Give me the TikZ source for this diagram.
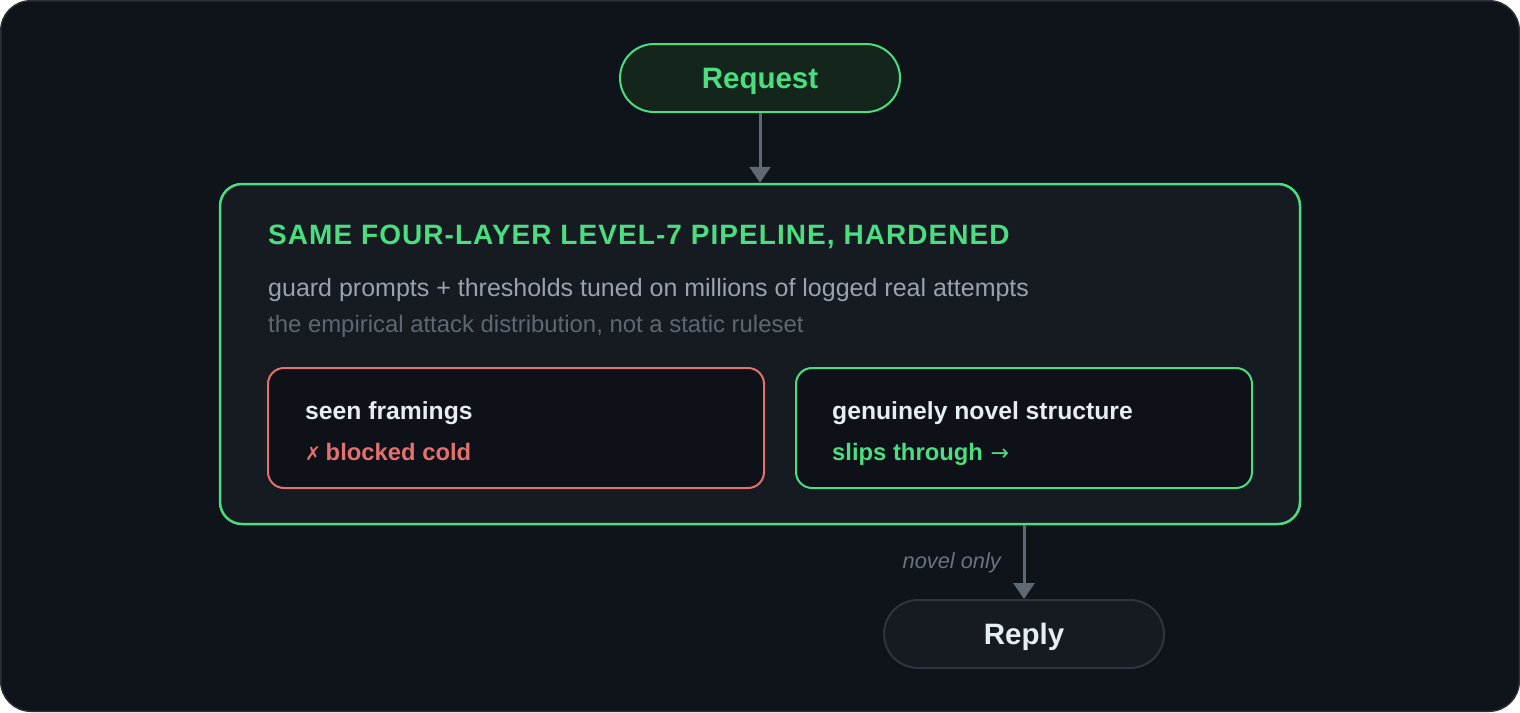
\documentclass[tikz,border=0pt]{standalone}
\usepackage{fontspec}
\setmainfont{Liberation Sans}
\newfontfamily\symfont{DejaVu Sans}
\usetikzlibrary{arrows.meta}
\definecolor{bgc}{HTML}{0F141B}
\definecolor{edgec}{HTML}{2B3039}
\definecolor{panelc}{HTML}{161B22}
\definecolor{innerc}{HTML}{0E1218}
\definecolor{greenc}{HTML}{4ADE80}
\definecolor{greenfill}{HTML}{14261C}
\definecolor{redc}{HTML}{E5716F}
\definecolor{arrowc}{HTML}{5F6873}
\definecolor{whitec}{HTML}{E6EDF3}
\definecolor{grayone}{HTML}{9AA3AD}
\definecolor{graytwo}{HTML}{5F6770}
\definecolor{graylbl}{HTML}{6B7280}
\definecolor{replyedge}{HTML}{2E353F}
\begin{document}
\begin{tikzpicture}[x=1pt,y=-1pt,
  pill/.style={rounded corners=34pt, minimum width=280pt, minimum height=68pt, line width=2pt, inner sep=0pt,
    text height=21pt, text depth=0pt, font=\bfseries\fontsize{29.5}{33}\selectfont},
  casebox/.style={rounded corners=16pt, minimum width=#1, minimum height=120pt, line width=2pt, fill=innerc, inner sep=0pt},
  flow/.style={draw=arrowc, line width=3pt, -{Triangle[length=16pt,width=21pt]}},
  boxhead/.style={anchor=base west, inner sep=0pt, text=whitec, font=\bfseries\fontsize{24.7}{28}\selectfont},
  boxtag/.style={anchor=base west, inner sep=0pt, font=\bfseries\fontsize{23.8}{28}\selectfont}
]
\useasboundingbox (0,0) rectangle (1520,712);
\draw[fill=bgc, draw=edgec, line width=1.5pt, rounded corners=30pt] (0.75,0.75) rectangle (1519.25,711.25);

\node[pill, draw=greenc, fill=greenfill, text=greenc] (req) at (760,78) {Request};

\node[rounded corners=22pt, minimum width=1080pt, minimum height=340pt, line width=2.5pt,
  draw=greenc, fill=panelc, inner sep=0pt] (main) at (760,354) {};

\node[anchor=base west, inner sep=0pt, text=greenc,
  font=\bfseries\fontsize{28}{32}\selectfont\addfontfeature{LetterSpace=3.8}] (title) at (268,244.5)
  {SAME FOUR-LAYER LEVEL-7 PIPELINE, HARDENED};
\node[anchor=base west, inner sep=0pt, text=grayone, font=\fontsize{25}{29}\selectfont] (sub1) at (268,296)
  {guard prompts + thresholds tuned on millions of logged real attempts};
\node[anchor=base west, inner sep=0pt, text=graytwo, font=\fontsize{23.9}{27}\selectfont] (sub2) at (268,332)
  {the empirical attack distribution, not a static ruleset};

\node[casebox=496pt, draw=redc] (seen) at (516,428) {};
\node[boxhead] (seenh) at (305,419) {seen framings};
\node[boxtag, text=redc] (seent) at (305,460) {{\symfont\mdseries\fontsize{19}{23}\selectfont ✗}\hspace{-2pt} blocked cold};

\node[casebox=456pt, draw=greenc] (novel) at (1024,428) {};
\node[boxhead] (novelh) at (832,419) {genuinely novel structure};
\node[boxtag, text=greenc] (novelt) at (832,460) {slips through\hspace{1pt} {\symfont\mdseries\fontsize{22}{25}\selectfont →}};

\node[pill, draw=replyedge, fill=panelc, text=whitec] (reply) at (1024,634) {Reply};

\draw[flow] (req.south) -- (main.north);
\draw[flow] (reply.north |- main.south) -- (reply.north);
\node[anchor=base east, inner sep=0pt, text=graylbl, font=\itshape\fontsize{21.8}{25}\selectfont] (lbl)
  at (1001,568) {novel only};
\end{tikzpicture}
\end{document}
